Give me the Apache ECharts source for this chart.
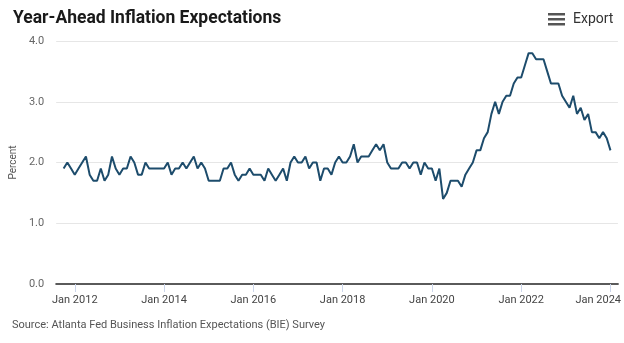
<!DOCTYPE html>
<html>
<head>
<meta charset="utf-8">
<script src="https://cdn.jsdelivr.net/npm/echarts@6/dist/echarts.min.js"></script>
<style>
html,body{margin:0;padding:0;background:#fff;}
#chart{width:624px;height:343px;}
</style>
</head>
<body>
<div id="chart"></div>
<script>
// Monthly series starting Oct 2011 (BIE year-ahead inflation expectations, percent)
const startYear = 2011;
const startMonth = 10; // October
const values = [
  1.9, 2.0, 1.9,                                              // Oct-Dec 2011
  1.8, 1.9, 2.0, 2.1, 1.8, 1.7, 1.7, 1.9, 1.7, 1.8, 2.1, 1.9, // 2012
  1.8, 1.9, 1.9, 2.1, 2.0, 1.8, 1.8, 2.0, 1.9, 1.9, 1.9, 1.9, // 2013
  1.9, 2.0, 1.8, 1.9, 1.9, 2.0, 1.9, 2.0, 2.1, 1.9, 2.0, 1.9, // 2014
  1.7, 1.7, 1.7, 1.7, 1.9, 1.9, 2.0, 1.8, 1.7, 1.8, 1.8, 1.9, // 2015
  1.8, 1.8, 1.8, 1.7, 1.9, 1.8, 1.7, 1.8, 1.9, 1.7, 2.0, 2.1, // 2016
  2.0, 2.0, 2.1, 1.9, 2.0, 2.0, 1.7, 1.9, 1.9, 1.8, 2.0, 2.1, // 2017
  2.0, 2.0, 2.1, 2.3, 2.0, 2.1, 2.1, 2.1, 2.2, 2.3, 2.2, 2.3, // 2018
  2.0, 1.9, 1.9, 1.9, 2.0, 2.0, 1.9, 2.0, 2.0, 1.8, 2.0, 1.9, // 2019
  1.9, 1.7, 1.9, 1.4, 1.5, 1.7, 1.7, 1.7, 1.6, 1.8, 1.9, 2.0, // 2020
  2.2, 2.2, 2.4, 2.5, 2.8, 3.0, 2.8, 3.0, 3.1, 3.1, 3.3, 3.4, // 2021
  3.4, 3.6, 3.8, 3.8, 3.7, 3.7, 3.7, 3.5, 3.3, 3.3, 3.3, 3.1, // 2022
  3.0, 2.9, 3.1, 2.8, 2.9, 2.7, 2.8, 2.5, 2.5, 2.4, 2.5, 2.4, // 2023
  2.2                                                         // Jan 2024
];
const tickYears = [2012, 2014, 2016, 2018, 2020, 2022, 2024];
const yTicks = [0, 1, 2, 3, 4];

const baseYear = 2012; // x value 0 = Jan 2012, unit = months
const offset = (startYear - baseYear) * 12 + (startMonth - 1);
const seriesData = values.map((v, i) => [offset + i, v]);
const tickValues = tickYears.map(y => (y - baseYear) * 12);
const lastTick = tickValues[tickValues.length - 1];

const chart = echarts.init(document.getElementById('chart'), null, {renderer: 'canvas'});
const FONT = 'Roboto, "Liberation Sans", sans-serif';

chart.setOption({
  animation: false,
  backgroundColor: '#ffffff',
  textStyle: {fontFamily: FONT},
  title: {
    text: 'Year-Ahead Inflation Expectations',
    left: 8,
    top: 5,
    textStyle: {fontFamily: FONT, fontSize: 17.5, fontWeight: 'bold', color: '#1a1a1a'}
  },
  grid: {left: 52, right: 4, top: 41, bottom: 59, containLabel: false},
  xAxis: {
    type: 'value',
    min: -5,
    max: 146,
    axisLine: {show: true, lineStyle: {color: '#5a5a5a', width: 2}},
    axisTick: {show: true, customValues: tickValues, length: 8, lineStyle: {color: '#ccd6eb', width: 1}},
    splitLine: {show: false},
    axisLabel: {
      customValues: tickValues,
      margin: 11,
      fontSize: 11,
      color: '#444',
      fontFamily: FONT,
      formatter: function (v) {
        const s = 'Jan ' + (baseYear + Math.round(v / 12));
        return v === lastTick ? '{last|' + s + '}' : s;
      },
      rich: {last: {width: 70, align: 'left', fontSize: 11, color: '#444', fontFamily: FONT}}
    }
  },
  yAxis: {
    type: 'value',
    min: yTicks[0],
    max: yTicks[yTicks.length - 1],
    interval: 1,
    name: 'Percent',
    nameLocation: 'middle',
    nameGap: 30,
    nameRotate: 90,
    nameTextStyle: {fontSize: 10, color: '#555', fontFamily: FONT},
    axisLine: {show: false},
    axisTick: {show: false},
    splitLine: {show: true, lineStyle: {color: '#e6e6e6', width: 1}},
    axisLabel: {
      margin: 12,
      fontSize: 11,
      color: '#666',
      fontFamily: FONT,
      formatter: v => v.toFixed(1)
    }
  },
  series: [{
    type: 'line',
    data: seriesData,
    showSymbol: false,
    symbol: 'none',
    lineStyle: {color: '#1d4c6c', width: 2},
    z: 3
  }],
  graphic: [
    {type: 'rect', left: 548, top: 13, shape: {width: 17, height: 2.5}, style: {fill: '#555'}},
    {type: 'rect', left: 548, top: 18, shape: {width: 17, height: 2.5}, style: {fill: '#555'}},
    {type: 'rect', left: 548, top: 23, shape: {width: 17, height: 2.5}, style: {fill: '#555'}},
    {type: 'text', left: 573, top: 12, style: {text: 'Export', fontSize: 14, fill: '#333', fontFamily: FONT}},
    {type: 'text', left: 12, top: 320, style: {text: 'Source: Atlanta Fed Business Inflation Expectations (BIE) Survey', fontSize: 11, fill: '#555', fontFamily: FONT}}
  ]
});
</script>
</body>
</html>
